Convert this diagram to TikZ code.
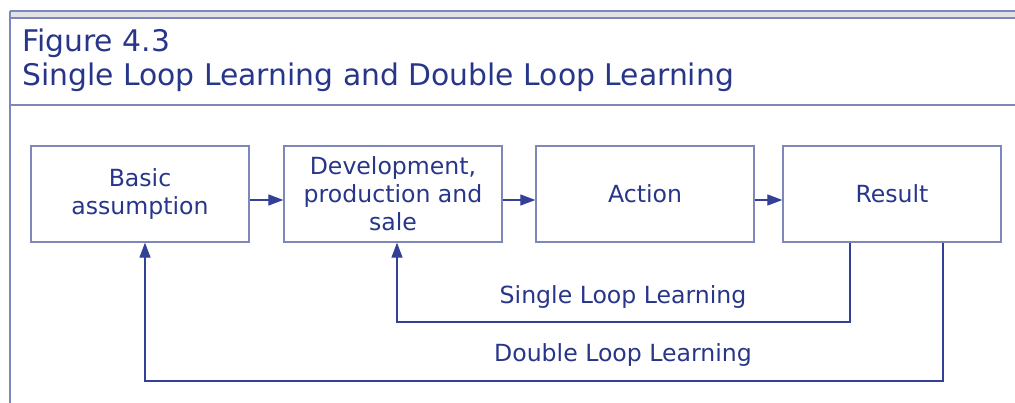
\documentclass[tikz,border=0pt]{standalone}
\usepackage{fontspec}
\setmainfont{DejaVu Sans}
\usetikzlibrary{arrows.meta}
\definecolor{txtblue}{RGB}{40,54,138}
\definecolor{boxblue}{RGB}{125,135,185}
\definecolor{lineblue}{RGB}{50,64,150}
\definecolor{bandgray}{RGB}{226,226,230}
\begin{document}
\begin{tikzpicture}[
        x=1pt, y=-1pt,
        block/.style={rectangle, draw=boxblue, line width=1.3pt, minimum width=218pt,
            minimum height=96pt, align=center, text=txtblue,
            font=\fontsize{23.6}{28}\selectfont},
        heading/.style={anchor=base west, text=txtblue, inner sep=0pt,
            font=\fontsize{29.8}{34}\selectfont},
        looplabel/.style={text=txtblue, font=\fontsize{23.6}{28}\selectfont},
        frame/.style={draw=boxblue, line width=1.3pt},
        arrow/.style={-{Triangle[length=15pt,width=11pt]}, draw=lineblue, line width=1.2pt},
        loopline/.style={arrow, draw=lineblue}
    ]
        \useasboundingbox (0,0) rectangle (1015,403);

        % Rahmen und Titel
        \fill[bandgray] (10,11) rectangle (1015,18);
        \draw[frame] (10,11) -- (1015,11);
        \draw[frame] (10,18) -- (1015,18);
        \draw[frame] (10,11) -- (10,403);
        \draw[frame] (10,105) -- (1015,105);
        \node[heading] (fig) at (22,52) {Figure 4.3};
        \node[heading] (title) at (22,86) {Single Loop Learning and Double Loop Learning};

        % Boxes
        \node[block] (basic) at (140,194) {Basic\\assumption};
        \node[block] (devel) at (393,194) {Development,\\production and\\sale};
        \node[block] (action) at (645,194) {Action};
        \node[block] (result) at (892,194) {Result};

        % Verbindungen
        \draw[arrow] ([yshift=-6pt]basic.east) -- ([yshift=-6pt]devel.west);
        \draw[arrow] ([yshift=-6pt]devel.east) -- ([yshift=-6pt]action.west);
        \draw[arrow] ([yshift=-6pt]action.east) -- ([yshift=-6pt]result.west);

        % Single loop
        \coordinate (sl) at (850,322);
        \draw[loopline] (result.south -| sl) -- (sl) -| ([xshift=4pt]devel.south);
        \node[looplabel] (sltext) at (623,297) {Single Loop Learning};

        % Double loop
        \coordinate (dl) at (943,381);
        \draw[loopline] (result.south -| dl) -- (dl) -| ([xshift=5pt]basic.south);
        \node[looplabel] (dltext) at (623,355) {Double Loop Learning};

    \end{tikzpicture}
\end{document}
